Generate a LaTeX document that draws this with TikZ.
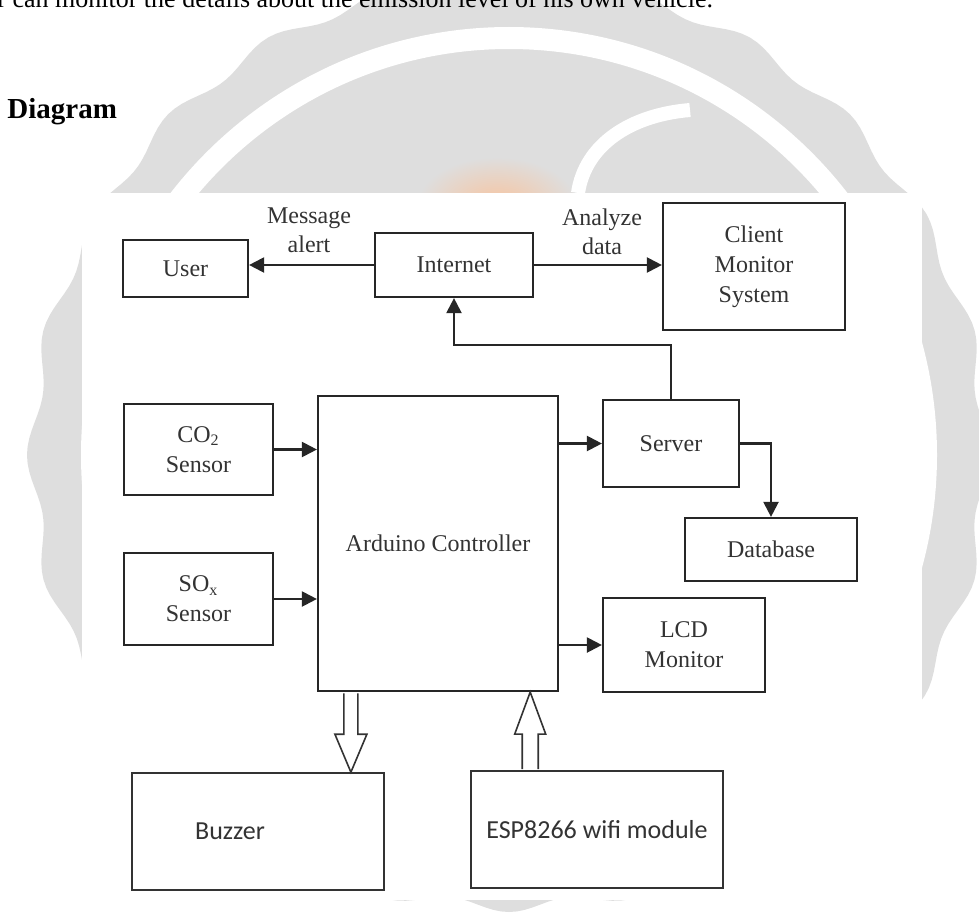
\documentclass[tikz,border=0pt]{standalone}
\usepackage{fontspec}
\setmainfont{Liberation Serif}
\newfontfamily\carlito{Carlito}
\usetikzlibrary{arrows.meta,calc}
\definecolor{wmgray}{RGB}{222,222,222}
\definecolor{wmorange}{RGB}{247,196,160}

\begin{document}
\begin{tikzpicture}
 [x=0.5pt,y=-0.5pt,
   every node/.style={font=\fontsize{12}{15}\selectfont,text=black!80},
   blk/.style={draw=black!85,line width=1.1pt,align=center,inner sep=0pt},
   sbox/.style={draw=black!80,line width=0.8pt,inner sep=0pt,font=\carlito\fontsize{13}{15}\selectfont},
   arr/.style={draw=black!85,line width=1.1pt,-{Triangle[length=7.5pt,width=7.5pt]}},
   hollow/.style={draw=black!80,line width=0.8pt,fill=white,line join=miter}]
  \useasboundingbox (0,0) rectangle (979,920);
  % watermark behind the figure
  \fill[wmgray] plot[domain=0:360,samples=361] ({509+(476+6*cos(24*\x)-25*max(0,sin(\x))^4)*cos(\x)},{455+(476+6*cos(24*\x)-25*max(0,sin(\x))^4)*sin(\x)}) -- cycle;
  \draw[white,line width=11pt] (509,455) circle[radius=417];
  \shade[inner color=wmorange,outer color=wmgray] (497,205) ellipse[x radius=80,y radius=48];
  \draw[white,line width=7pt] (578,193) .. controls (585,145) and (630,115) .. (690,110);
  \node[anchor=base west,inner sep=0pt,text=black,font=\fontsize{13}{15}\selectfont] (intro) at (-3,8) {r can monitor the details about the emission level of his own vehicle.};
  \node[anchor=base west,inner sep=0pt,text=black,font=\bfseries\fontsize{14.5}{17}\selectfont] (title) at (7,119) {Diagram};
  \fill[white] (82,193) rectangle (922,900);
  % blocks
  \node[blk,minimum width=62.5pt,minimum height=28.5pt] (user) at (185.5,268.5) {User};
  \node[blk,minimum width=79pt,minimum height=32pt] (inet) at (454,265) {Internet};
  \node[blk,minimum width=91pt,minimum height=63.5pt] (cms) at (754,266.5) {Client\\Monitor\\System};
  \node[align=center,font=\fontsize{12}{14.5}\selectfont] (msg) at (309,230) {Message\\alert};
  \node[align=center,font=\fontsize{12}{14.5}\selectfont] (ana) at (602,232) {Analyze\\data};
  \node[blk,minimum width=120pt,minimum height=147.5pt] (ard) at (438,543.5) {Arduino Controller};
  \node[blk,minimum width=74.5pt,minimum height=45.5pt] (co2) at (198.5,449.5) {CO\textsubscript{2}\\Sensor};
  \node[blk,minimum width=74.5pt,minimum height=46pt] (sox) at (198.5,599) {SO\textsubscript{x}\\Sensor};
  \node[blk,minimum width=68pt,minimum height=43.5pt] (srv) at (671,443.5) {Server};
  \node[blk,minimum width=86pt,minimum height=31.5pt] (db) at (771,549.5) {Database};
  \node[blk,minimum width=81pt,minimum height=47pt] (lcd) at (684,645) {LCD\\Monitor};
  \node[sbox,minimum width=126pt,minimum height=58.5pt,label={[sbox,draw=none,xshift=-14pt]center:Buzzer}] (buz) at (258,831.5) {};
  \node[sbox,minimum width=126pt,minimum height=58.5pt] (esp) at (597,829.5) {ESP8266 wifi module};
  % connectors
  \draw[arr] (inet.west) -- (inet.west -| user.east);
  \draw[arr] (inet.east) -- (inet.east -| cms.west);
  \draw[arr] (srv.north) -- ++(0,-54) -| (inet.south);
  \draw[arr] (co2.east) -- (co2.east -| ard.west);
  \draw[arr] (sox.east) -- (sox.east -| ard.west);
  \draw[arr] (ard.east |- srv.west) -- (srv.west);
  \draw[arr] (ard.east |- lcd.west) -- (lcd.west);
  \draw[arr] (srv.east) -| (db.north);
  \coordinate (bzS) at ([xshift=17pt]ard.south west);
  \coordinate (bzT) at (bzS |- buz.north);
  \draw[hollow] ($(bzS)+(-7,1.2)$) -- ($(bzT)+(-7,-38)$) -- ($(bzT)+(-16,-38)$) -- (bzT) -- ($(bzT)+(16,-38)$) -- ($(bzT)+(7,-38)$) -- ($(bzS)+(7,1.2)$);
  \coordinate (wfS) at ([xshift=30pt]esp.north west);
  \coordinate (wfT) at (wfS |- ard.south);
  \draw[hollow] ($(wfS)+(-8,-1)$) -- ($(wfT)+(-8,42)$) -- ($(wfT)+(-15.5,42)$) -- (wfT) -- ($(wfT)+(15.5,42)$) -- ($(wfT)+(8,42)$) -- ($(wfS)+(8,-1)$);
\end{tikzpicture}
\end{document}
